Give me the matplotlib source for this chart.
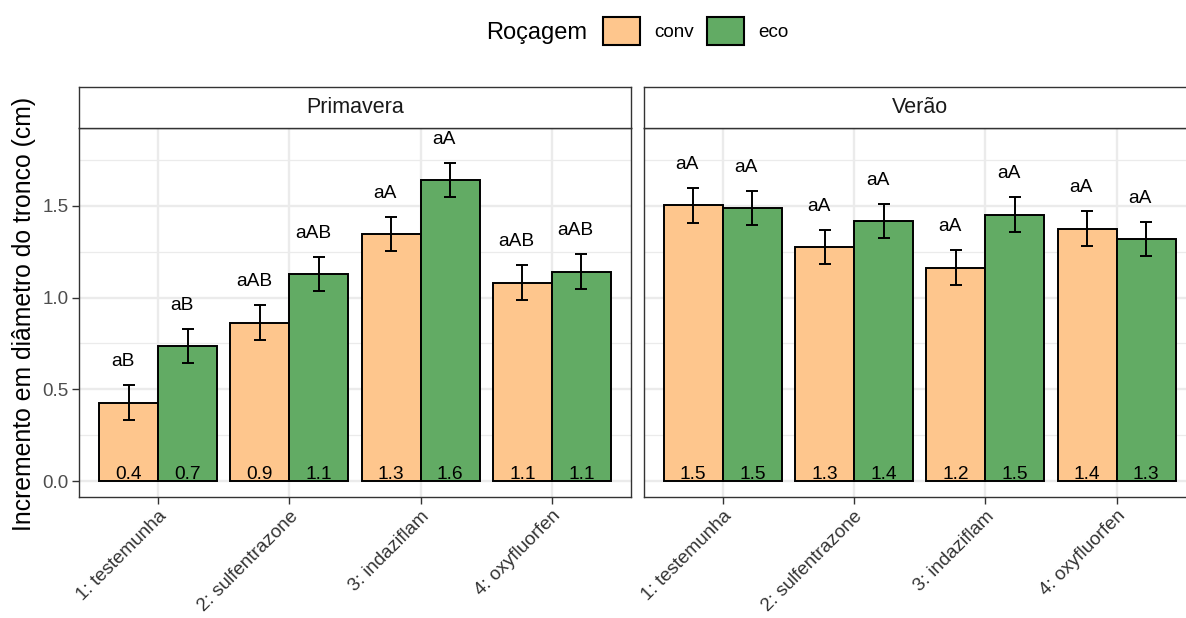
import matplotlib
matplotlib.use("Agg")
import matplotlib.pyplot as plt
from matplotlib.patches import Patch
import numpy as np

# ---------------- data ----------------
categories = ["1: testemunha", "2: sulfentrazone", "3: indaziflam", "4: oxyfluorfen"]
seasons = ["Primavera", "Verão"]
groups = ["conv", "eco"]

conv_primavera = [0.427, 0.864, 1.346, 1.082]
eco_primavera = [0.735, 1.129, 1.642, 1.142]
conv_verao = [1.503, 1.275, 1.164, 1.377]
eco_verao = [1.490, 1.417, 1.453, 1.319]

se_conv_primavera = [0.094, 0.094, 0.094, 0.094]
se_eco_primavera = [0.094, 0.094, 0.094, 0.094]
se_conv_verao = [0.094, 0.094, 0.094, 0.094]
se_eco_verao = [0.094, 0.094, 0.094, 0.094]

letters_conv_primavera = ["aB", "aAB", "aA", "aAB"]
letters_eco_primavera = ["aB", "aAB", "aA", "aAB"]
letters_conv_verao = ["aA", "aA", "aA", "aA"]
letters_eco_verao = ["aA", "aA", "aA", "aA"]

y_ticks = [0.0, 0.5, 1.0, 1.5]
y_minor = [0.25, 0.75, 1.25, 1.75]

# ---------------- style ----------------
plt.rcParams['font.family'] = ['Liberation Sans', 'DejaVu Sans']
colors = {"conv": "#FEC68D", "eco": "#62AB64"}
grid_col = "#EBEBEB"
border_col = "#333333"

W, H = 1186, 618
fig = plt.figure(figsize=(W / 100, H / 100), dpi=100)
fig.patch.set_facecolor("white")


def px_axes(left, top, right, bottom):
    return fig.add_axes([left / W, 1 - bottom / H, (right - left) / W, (bottom - top) / H])


panel_data = [
    (conv_primavera, eco_primavera, se_conv_primavera, se_eco_primavera,
     letters_conv_primavera, letters_eco_primavera),
    (conv_verao, eco_verao, se_conv_verao, se_eco_verao,
     letters_conv_verao, letters_eco_verao),
]
panel_x = [(79.3, 630.7), (644.0, 1195.4)]
panel_top, panel_bottom = 127.7, 496.7
strip_top = 87.5

x = np.arange(1, len(categories) + 1)
bw = 0.45

for i, (season, (l, r), pdata) in enumerate(zip(seasons, panel_x, panel_data)):
    conv, eco, se_c, se_e, let_c, let_e = pdata
    ax = px_axes(l, panel_top, r, panel_bottom)
    ax.set_xlim(0.4, 4.6)
    ax.set_ylim(-0.0856, 1.927)
    ax.set_axisbelow(True)
    ax.set_yticks(y_ticks)
    ax.set_yticks(y_minor, minor=True)
    ax.set_xticks(x)
    ax.grid(which="major", color=grid_col, lw=1.7)
    ax.grid(which="minor", axis="y", color=grid_col, lw=0.9)
    for s in ax.spines.values():
        s.set_color(border_col)
        s.set_linewidth(1.0)
    ax.tick_params(which="minor", length=0)
    ax.tick_params(which="major", length=4.8, width=1.0, color=border_col, pad=3.0,
                   labelsize=13.6)
    ax.set_yticklabels([f"{t:.1f}" for t in y_ticks], color="#4D4D4D")
    ax.set_xticklabels(categories, rotation=45, ha="right", va="top",
                       rotation_mode="anchor", color="#333333", fontsize=13.6)
    if i == 1:
        ax.tick_params(axis="y", which="both", left=False, labelleft=False)

    for vals, ses, lets, g, off in [(conv, se_c, let_c, "conv", -bw / 2),
                                    (eco, se_e, let_e, "eco", bw / 2)]:
        xp = x + off
        ax.bar(xp, vals, width=bw, color=colors[g], edgecolor="black",
               linewidth=1.4, zorder=3)
        ax.errorbar(xp, vals, yerr=ses, fmt="none", ecolor="black",
                    elinewidth=1.4, capsize=4.4, capthick=1.4, zorder=4)
        for xi, v, s, lab in zip(xp, vals, ses, lets):
            ax.annotate(f"{v:.1f}", xy=(xi, 0), xytext=(0, 1.5),
                        textcoords="offset points", ha="center", va="baseline",
                        fontsize=13.8, color="black", zorder=5)
            ax.annotate(lab, xy=(xi, v + s), xytext=(-4.3, 13.7),
                        textcoords="offset points", ha="center", va="baseline",
                        fontsize=13.8, color="black", zorder=5)

    # strip
    sax = px_axes(l, strip_top, r, panel_top)
    sax.set_xticks([])
    sax.set_yticks([])
    sax.set_facecolor("white")
    for s in sax.spines.values():
        s.set_color(border_col)
        s.set_linewidth(1.0)
    sax.text(0.5, 0.5, season, ha="center", va="center", fontsize=15.5,
             color="#1A1A1A", transform=sax.transAxes)

# y-axis title
fig.text(31.5 / W, 1 - 314 / H, "Incremento em diâmetro do tronco (cm)",
         rotation=90, rotation_mode="anchor", ha="center", va="baseline",
         fontsize=17.8, color="black")

# legend
fig.text(486 / W, 1 - 39.5 / H, "Roçagem", ha="left", va="baseline",
         fontsize=17, color="black")
handles = [Patch(facecolor=colors[g], edgecolor="black", linewidth=1.5) for g in groups]
fig.legend(handles, groups, loc="center left", bbox_to_anchor=(603.3 / W, 1 - 31 / H),
           ncol=2, frameon=False, handlelength=1.94, handleheight=1.94,
           handletextpad=0.76, columnspacing=0.7, borderpad=0, borderaxespad=0,
           fontsize=13.6)

fig.savefig("out.png", dpi=100)
